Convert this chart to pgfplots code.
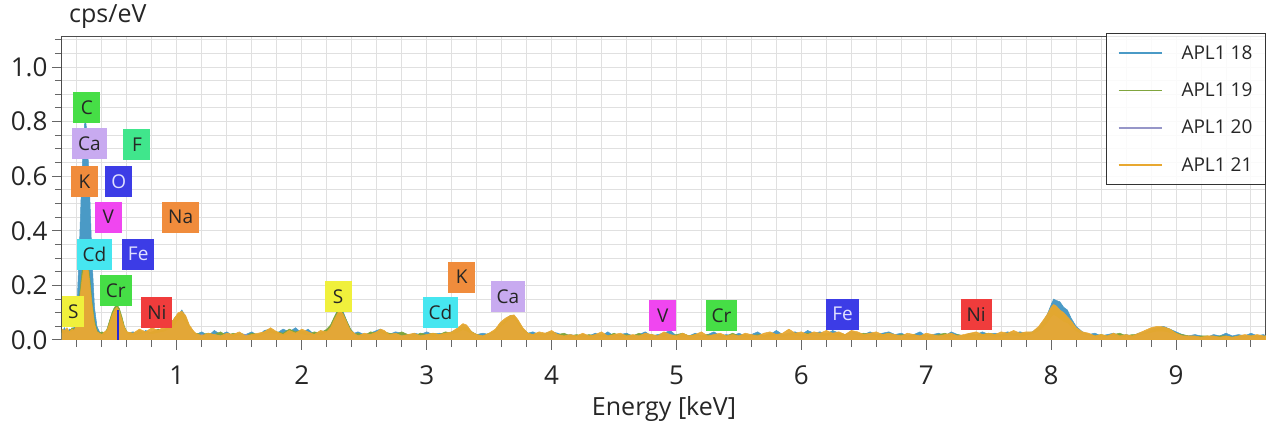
\documentclass[border=0pt]{standalone}
\usepackage{pgfplots}
\pgfplotsset{compat=1.18}
\usepackage{pgfplotstable}
\usepackage{fontspec}
\setmainfont{Open Sans}

\definecolor{c18}{RGB}{74,154,198}
\definecolor{c19}{RGB}{128,165,62}
\definecolor{c20}{RGB}{150,150,200}
\definecolor{c21}{RGB}{232,168,48}
\definecolor{eGreen}{RGB}{70,222,70}
\definecolor{eLav}{RGB}{200,170,240}
\definecolor{eMint}{RGB}{64,230,140}
\definecolor{eOrange}{RGB}{240,140,60}
\definecolor{eBlue}{RGB}{60,60,230}
\definecolor{eMag}{RGB}{240,70,240}
\definecolor{eCyan}{RGB}{70,230,240}
\definecolor{eYellow}{RGB}{240,240,60}
\definecolor{eRed}{RGB}{240,60,60}
\definecolor{gridgray}{RGB}{224,224,224}

\pgfplotstableread{
x b g l o
0.08 0.030 0.035 0.025 0.040
0.10 0.045 0.030 0.020 0.035
0.12 0.025 0.040 0.030 0.045
0.14 0.040 0.030 0.025 0.030
0.16 0.035 0.045 0.030 0.040
0.18 0.050 0.040 0.035 0.035
0.20 0.120 0.080 0.060 0.070
0.22 0.350 0.160 0.120 0.140
0.24 0.620 0.250 0.200 0.220
0.26 0.790 0.310 0.250 0.280
0.27 0.800 0.320 0.260 0.300
0.28 0.760 0.310 0.250 0.290
0.30 0.560 0.240 0.190 0.220
0.32 0.300 0.140 0.110 0.130
0.34 0.120 0.070 0.050 0.060
0.36 0.050 0.035 0.030 0.030
0.38 0.030 0.025 0.020 0.025
0.40 0.025 0.030 0.020 0.020
0.42 0.020 0.025 0.015 0.030
0.44 0.030 0.040 0.025 0.035
0.46 0.050 0.070 0.040 0.060
0.48 0.080 0.100 0.070 0.090
0.50 0.100 0.120 0.090 0.110
0.52 0.110 0.130 0.100 0.120
0.54 0.095 0.115 0.085 0.105
0.56 0.070 0.085 0.060 0.075
0.58 0.040 0.050 0.035 0.045
0.60 0.025 0.030 0.020 0.030
0.65 0.030 0.020 0.015 0.025
0.70 0.020 0.035 0.020 0.040
0.75 0.035 0.025 0.025 0.030
0.80 0.025 0.030 0.020 0.045
0.85 0.030 0.040 0.025 0.035
0.90 0.040 0.035 0.030 0.050
0.95 0.050 0.060 0.040 0.060
0.98 0.070 0.080 0.050 0.080
1.01 0.090 0.095 0.070 0.100
1.04 0.110 0.100 0.080 0.105
1.07 0.085 0.080 0.060 0.090
1.10 0.050 0.045 0.040 0.055
1.13 0.030 0.030 0.025 0.035
1.15 0.020 0.025 0.015 0.025
1.20 0.030 0.020 0.020 0.015
1.25 0.015 0.025 0.015 0.025
1.30 0.035 0.020 0.020 0.020
1.35 0.020 0.030 0.015 0.015
1.40 0.030 0.015 0.020 0.025
1.45 0.015 0.025 0.010 0.020
1.50 0.025 0.020 0.015 0.030
1.55 0.020 0.015 0.020 0.015
1.60 0.030 0.025 0.015 0.020
1.65 0.015 0.020 0.010 0.025
1.70 0.035 0.030 0.020 0.030
1.75 0.040 0.035 0.025 0.045
1.80 0.025 0.030 0.020 0.030
1.85 0.040 0.025 0.015 0.020
1.90 0.030 0.040 0.020 0.035
1.95 0.045 0.030 0.025 0.025
2.00 0.025 0.035 0.020 0.040
2.05 0.040 0.020 0.015 0.030
2.10 0.020 0.030 0.020 0.020
2.15 0.030 0.025 0.015 0.035
2.20 0.035 0.040 0.025 0.030
2.23 0.050 0.055 0.035 0.045
2.26 0.080 0.085 0.060 0.075
2.29 0.115 0.110 0.085 0.100
2.31 0.120 0.115 0.090 0.105
2.33 0.105 0.100 0.080 0.095
2.36 0.070 0.070 0.055 0.065
2.39 0.040 0.040 0.030 0.035
2.42 0.025 0.020 0.020 0.025
2.45 0.030 0.025 0.015 0.015
2.50 0.020 0.015 0.015 0.025
2.55 0.025 0.030 0.020 0.020
2.60 0.035 0.025 0.020 0.030
2.63 0.040 0.035 0.025 0.040
2.66 0.030 0.030 0.020 0.035
2.70 0.020 0.025 0.015 0.020
2.75 0.030 0.020 0.020 0.025
2.80 0.025 0.030 0.015 0.015
2.85 0.015 0.020 0.015 0.020
2.90 0.025 0.015 0.010 0.025
2.95 0.020 0.025 0.015 0.015
3.00 0.030 0.020 0.015 0.020
3.05 0.020 0.025 0.010 0.025
3.10 0.025 0.020 0.015 0.020
3.15 0.020 0.030 0.015 0.025
3.20 0.030 0.025 0.020 0.030
3.25 0.040 0.035 0.025 0.045
3.29 0.055 0.050 0.035 0.060
3.32 0.050 0.045 0.030 0.055
3.36 0.030 0.030 0.020 0.030
3.40 0.020 0.020 0.015 0.020
3.45 0.025 0.015 0.015 0.015
3.50 0.020 0.025 0.020 0.025
3.55 0.035 0.030 0.025 0.040
3.59 0.060 0.055 0.045 0.065
3.63 0.075 0.070 0.060 0.080
3.67 0.090 0.085 0.075 0.090
3.70 0.088 0.085 0.075 0.092
3.73 0.070 0.065 0.055 0.075
3.77 0.040 0.040 0.030 0.045
3.81 0.025 0.025 0.020 0.025
3.85 0.030 0.020 0.015 0.020
3.90 0.020 0.025 0.015 0.030
3.95 0.025 0.020 0.015 0.025
4.00 0.030 0.030 0.020 0.035
4.05 0.025 0.020 0.015 0.020
4.10 0.015 0.025 0.010 0.015
4.15 0.020 0.015 0.010 0.020
4.20 0.015 0.020 0.010 0.015
4.25 0.020 0.015 0.010 0.025
4.30 0.015 0.020 0.010 0.015
4.35 0.025 0.015 0.015 0.020
4.40 0.015 0.020 0.010 0.030
4.45 0.030 0.015 0.010 0.015
4.50 0.015 0.025 0.015 0.020
4.55 0.020 0.015 0.010 0.025
4.60 0.025 0.020 0.010 0.015
4.65 0.015 0.015 0.010 0.020
4.70 0.020 0.025 0.015 0.015
4.75 0.030 0.015 0.010 0.025
4.80 0.015 0.020 0.010 0.020
4.85 0.020 0.015 0.015 0.015
4.90 0.025 0.020 0.010 0.030
4.95 0.035 0.015 0.020 0.020
5.00 0.015 0.020 0.010 0.015
5.05 0.020 0.025 0.010 0.025
5.10 0.015 0.015 0.010 0.015
5.15 0.025 0.020 0.015 0.020
5.20 0.015 0.015 0.010 0.030
5.25 0.020 0.020 0.010 0.015
5.30 0.030 0.015 0.015 0.020
5.35 0.015 0.020 0.010 0.025
5.40 0.020 0.015 0.010 0.015
5.45 0.015 0.025 0.010 0.020
5.50 0.025 0.015 0.015 0.015
5.55 0.015 0.020 0.010 0.025
5.60 0.020 0.015 0.010 0.020
5.65 0.030 0.020 0.015 0.015
5.70 0.015 0.015 0.010 0.025
5.75 0.020 0.025 0.010 0.030
5.80 0.035 0.020 0.015 0.020
5.85 0.020 0.015 0.010 0.025
5.90 0.025 0.020 0.015 0.040
5.95 0.030 0.025 0.015 0.025
6.00 0.020 0.020 0.010 0.030
6.05 0.035 0.025 0.015 0.020
6.10 0.025 0.020 0.015 0.030
6.15 0.030 0.015 0.010 0.025
6.20 0.020 0.025 0.015 0.035
6.25 0.035 0.020 0.015 0.025
6.30 0.025 0.025 0.010 0.030
6.35 0.020 0.020 0.015 0.020
6.40 0.030 0.015 0.025 0.035
6.45 0.025 0.020 0.015 0.030
6.50 0.020 0.025 0.010 0.020
6.55 0.030 0.020 0.015 0.025
6.60 0.020 0.015 0.010 0.030
6.65 0.025 0.020 0.010 0.020
6.70 0.030 0.025 0.015 0.025
6.75 0.020 0.015 0.010 0.020
6.80 0.025 0.020 0.015 0.015
6.85 0.015 0.015 0.010 0.025
6.90 0.020 0.020 0.010 0.020
6.95 0.030 0.015 0.015 0.015
7.00 0.015 0.020 0.010 0.025
7.05 0.020 0.015 0.010 0.020
7.10 0.025 0.020 0.015 0.015
7.15 0.015 0.025 0.010 0.020
7.20 0.030 0.015 0.010 0.025
7.25 0.020 0.020 0.015 0.015
7.30 0.015 0.015 0.010 0.020
7.35 0.025 0.020 0.010 0.025
7.40 0.020 0.015 0.015 0.030
7.45 0.030 0.020 0.010 0.020
7.50 0.020 0.025 0.015 0.025
7.55 0.025 0.020 0.010 0.020
7.60 0.020 0.015 0.010 0.030
7.65 0.030 0.020 0.015 0.025
7.70 0.025 0.025 0.015 0.035
7.75 0.030 0.020 0.010 0.025
7.80 0.025 0.025 0.015 0.030
7.85 0.030 0.025 0.020 0.030
7.90 0.045 0.040 0.030 0.050
7.94 0.070 0.060 0.045 0.075
7.97 0.095 0.080 0.060 0.095
8.00 0.130 0.110 0.080 0.120
8.02 0.150 0.120 0.090 0.130
8.04 0.145 0.115 0.085 0.125
8.07 0.140 0.100 0.075 0.110
8.10 0.120 0.090 0.065 0.100
8.13 0.110 0.080 0.060 0.085
8.16 0.080 0.060 0.045 0.070
8.20 0.050 0.040 0.030 0.045
8.25 0.030 0.025 0.020 0.030
8.30 0.020 0.020 0.015 0.025
8.35 0.025 0.015 0.010 0.015
8.40 0.015 0.020 0.010 0.020
8.45 0.020 0.015 0.010 0.015
8.50 0.025 0.020 0.015 0.025
8.55 0.015 0.025 0.010 0.015
8.60 0.020 0.015 0.010 0.020
8.65 0.015 0.020 0.010 0.015
8.70 0.025 0.020 0.015 0.025
8.75 0.030 0.025 0.020 0.035
8.80 0.040 0.035 0.025 0.045
8.85 0.045 0.040 0.030 0.050
8.90 0.050 0.045 0.030 0.048
8.95 0.040 0.040 0.025 0.040
9.00 0.030 0.025 0.020 0.025
9.05 0.020 0.020 0.015 0.015
9.10 0.015 0.015 0.010 0.015
9.15 0.020 0.010 0.010 0.015
9.20 0.015 0.015 0.010 0.010
9.25 0.010 0.015 0.010 0.015
9.30 0.020 0.010 0.010 0.015
9.35 0.015 0.015 0.010 0.010
9.40 0.025 0.015 0.010 0.015
9.45 0.015 0.010 0.010 0.010
9.50 0.020 0.015 0.010 0.015
9.55 0.015 0.010 0.010 0.020
9.60 0.025 0.015 0.010 0.015
9.65 0.015 0.015 0.010 0.020
9.70 0.020 0.010 0.010 0.015
9.72 0.015 0.015 0.010 0.015
}\spec

\begin{document}
\begin{tikzpicture}
\useasboundingbox (-62pt,-87pt) rectangle (1206pt,340pt);
\begin{axis}[
  name=ax,
  at={(0pt,0pt)}, anchor=south west, scale only axis,
  width=1204pt, height=303pt,
  xmin=0.08, xmax=9.72, ymin=0, ymax=1.11,
  xtick={1,2,...,9},
  minor xtick={0.2,0.4,0.6,0.8,1.2,1.4,1.6,1.8,2.2,2.4,2.6,2.8,3.2,3.4,3.6,3.8,4.2,4.4,4.6,4.8,5.2,5.4,5.6,5.8,6.2,6.4,6.6,6.8,7.2,7.4,7.6,7.8,8.2,8.4,8.6,8.8,9.2,9.4,9.6},
  ytick={0,0.2,0.4,0.6,0.8,1.0},
  minor ytick={0.05,0.1,0.15,0.25,0.3,0.35,0.45,0.5,0.55,0.65,0.7,0.75,0.85,0.9,0.95,1.05,1.1},
  grid=both,
  major grid style={gridgray, line width=1pt},
  minor grid style={gridgray, line width=1pt},
  tick pos=left,
  tick align=outside,
  major tick length=10pt,
  minor tick length=7pt,
  every tick/.style={black!60, line width=1pt},
  axis line style={black!70, line width=1pt},
  /pgf/number format/assume math mode=true,
  yticklabel style={/pgf/number format/fixed, /pgf/number format/fixed zerofill, /pgf/number format/precision=1, xshift=-1pt},
  ticklabel style={font=\fontsize{26}{30}\selectfont, text=black!85},
  xticklabel style={yshift=-12pt},
  xlabel={Energy [keV]},
  xlabel style={font=\fontsize{25}{30}\selectfont, text=black!85, at={(axis description cs:0.5,0)}, anchor=center, yshift=-69pt},
  legend image code/.code={\draw[#1, line width=1.8pt] (0pt,0pt) -- (43pt,0pt);},
  legend style={at={(1,1)}, anchor=north east, yshift=4pt, draw=black!80, line width=1.2pt,
    fill=white, fill opacity=0.85, text opacity=1,
    font=\fontsize{19}{23}\selectfont, text=black!85,
    inner xsep=11pt, inner ysep=10pt, row sep=18pt,
    /tikz/every odd column/.append style={column sep=17pt}},
  legend cell align=left,
]
\addlegendimage{color=c18}
\addlegendimage{color=c19}
\addlegendimage{color=c20}
\addlegendimage{color=c21}
\legend{APL1 18, APL1 19, APL1 20, APL1 21}

\addplot[fill=c18, draw=c18, line width=0.5pt, forget plot] table[x=x, y=b] {\spec} \closedcycle;
\addplot[fill=c19, draw=c19, line width=0.5pt, forget plot] table[x=x, y=g] {\spec} \closedcycle;
\addplot[fill=c20, draw=c20, line width=0.5pt, forget plot] table[x=x, y=l] {\spec} \closedcycle;
\addplot[fill=c21, fill opacity=0.95, draw=c21, line width=0.5pt, forget plot] table[x=x, y=o] {\spec} \closedcycle;
\addplot[draw={rgb,255:red,40;green,40;blue,210}, line width=2pt, forget plot] coordinates {(0.525,0) (0.525,0.11)};

\tikzset{elem/.style={font=\fontsize{19}{21}\selectfont, text=black!85, minimum height=31pt, minimum width=27pt, inner xsep=6pt, inner ysep=2pt, anchor=center}}
\node[elem, fill=eGreen] at (axis cs:0.28,0.85) {C};
\node[elem, fill=eLav] at (axis cs:0.30,0.72) {Ca};
\node[elem, fill=eMint] at (axis cs:0.68,0.715) {F};
\node[elem, fill=eOrange] at (axis cs:0.26,0.58) {K};
\node[elem, fill=eBlue, text=white!88!blue] at (axis cs:0.535,0.58) {O};
\node[elem, fill=eMag] at (axis cs:0.45,0.45) {V};
\node[elem, fill=eOrange] at (axis cs:1.03,0.45) {Na};
\node[elem, fill=eCyan] at (axis cs:0.34,0.315) {Cd};
\node[elem, fill=eBlue, text=white!88!blue] at (axis cs:0.69,0.315) {Fe};
\node[elem, fill=eGreen] at (axis cs:0.51,0.18) {Cr};
\node[elem, fill=eYellow, minimum width=20pt] at (axis cs:0.17,0.105) {S};
\node[elem, fill=eRed] at (axis cs:0.84,0.10) {Ni};
\node[elem, fill=eYellow] at (axis cs:2.29,0.16) {S};
\node[elem, fill=eOrange] at (axis cs:3.28,0.23) {K};
\node[elem, fill=eCyan] at (axis cs:3.11,0.10) {Cd};
\node[elem, fill=eLav] at (axis cs:3.65,0.16) {Ca};
\node[elem, fill=eMag] at (axis cs:4.89,0.09) {V};
\node[elem, fill=eGreen] at (axis cs:5.36,0.09) {Cr};
\node[elem, fill=eBlue, text=white!88!blue] at (axis cs:6.33,0.095) {Fe};
\node[elem, fill=eRed] at (axis cs:7.40,0.095) {Ni};
\end{axis}
\node[font=\fontsize{25}{30}\selectfont, text=black!85, anchor=base west, inner sep=0pt] at ([xshift=7pt,yshift=14pt]ax.north west) {cps/eV};
\end{tikzpicture}
\end{document}
